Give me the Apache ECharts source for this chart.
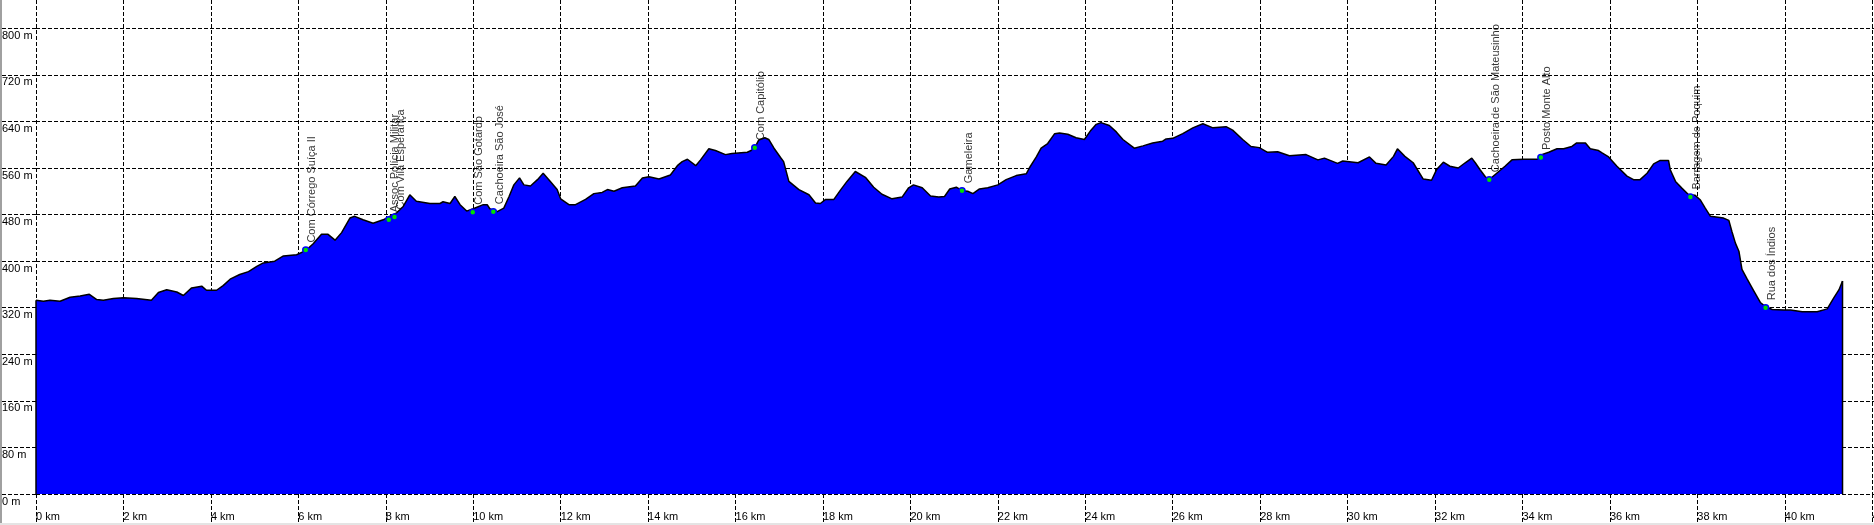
<!DOCTYPE html>
<html><head><meta charset="utf-8">
<script src="https://cdn.jsdelivr.net/npm/echarts@6/dist/echarts.min.js"></script>
<style>html,body{margin:0;padding:0;background:#fff;overflow:hidden}#c{width:1874px;height:525px}</style>
</head><body><div id="c"></div>
<script>
// Elevation profile: distance (km) and elevation (m)
const distKm = [0,0.17,0.32,0.55,0.78,1.01,1.22,1.39,1.54,1.77,2.0,2.30,2.64,2.80,2.99,3.22,3.37,3.56,3.79,3.90,4.13,4.28,4.44,4.66,4.86,5.05,5.20,5.46,5.66,5.96,6.17,6.34,6.53,6.68,6.84,6.99,7.18,7.29,7.48,7.71,7.94,8.09,8.25,8.40,8.55,8.70,9.01,9.24,9.31,9.47,9.58,9.70,9.85,10.0,10.23,10.32,10.38,10.44,10.55,10.70,10.82,10.93,11.06,11.16,11.31,11.47,11.60,11.73,11.92,12.0,12.19,12.34,12.57,12.76,12.95,13.07,13.22,13.41,13.71,13.87,14.02,14.25,14.51,14.67,14.78,14.90,15.09,15.20,15.39,15.54,15.77,15.92,16.27,16.38,16.44,16.53,16.67,16.76,16.88,17.03,17.10,17.22,17.45,17.68,17.83,17.94,18.06,18.25,18.40,18.55,18.74,18.97,19.16,19.35,19.58,19.81,19.96,20.07,20.27,20.46,20.65,20.78,20.90,21.05,21.18,21.31,21.43,21.58,21.77,22.0,22.19,22.42,22.65,22.72,22.88,22.99,23.14,23.30,23.41,23.60,23.79,23.98,24.13,24.25,24.36,24.55,24.71,24.86,25.12,25.32,25.54,25.77,25.85,26.0,26.23,26.46,26.69,26.92,27.22,27.37,27.60,27.79,27.98,28.17,28.40,28.67,29.05,29.32,29.47,29.77,29.89,30.24,30.50,30.65,30.88,31.05,31.14,31.31,31.50,31.73,31.92,32.04,32.19,32.34,32.53,32.69,32.84,32.92,33.03,33.15,33.24,33.41,33.60,33.76,34.02,34.37,34.44,34.60,34.79,34.94,35.13,35.24,35.44,35.55,35.74,35.82,35.97,36.16,36.39,36.54,36.69,36.85,37.0,37.15,37.34,37.38,37.50,37.65,37.80,37.84,37.95,38.07,38.18,38.30,38.60,38.72,38.79,38.87,38.95,39.02,39.14,39.29,39.44,39.56,39.71,39.98,40.13,40.40,40.74,40.97,41.12,41.24,41.32];
const elevM = [333,331,333,331,338,340,343,334,333,336,337,336,333,346,351,347,341,354,357,350,350,358,369,377,382,391,397,400,409,411,418,430,446,446,436,449,474,477,471,465,471,477,483,494,514,503,499,499,502,499,511,497,486,490,497,497,490,488,485,491,511,531,543,531,529,540,551,540,523,507,497,497,506,516,518,523,520,526,529,543,545,541,548,564,571,575,564,574,593,590,583,585,587,591,595,608,612,609,594,578,571,537,523,514,500,499,506,506,522,537,554,544,527,515,507,510,526,531,526,512,510,511,524,527,521,520,516,524,526,531,540,547,550,560,579,594,602,619,620,618,612,609,625,635,638,633,622,609,594,598,603,606,610,611,619,629,636,629,631,625,609,597,595,587,588,581,583,574,577,568,572,569,579,568,565,580,593,580,569,541,539,558,570,563,560,569,577,569,557,545,540,551,563,574,575,575,583,587,593,593,597,603,603,593,590,586,579,563,546,540,540,551,567,573,573,557,537,525,514,511,513,505,491,477,474,470,451,431,417,386,369,349,329,322,317,316,316,313,313,318,337,351,366];

// Waypoints
const wpNames = ["Com Córrego Suíça II","Assoc Polícia Militar","Com Vila Esperança","Com São Gotardo","Cachoeira São José","Com Capitólio","Gameleira","Cachoeira de São Mateusinho","Posto Monte Alto","Barragem de Poquim","Rua dos Índios"];
const wpKm = [6.17,8.07,8.20,9.99,10.46,16.44,21.18,33.24,34.42,37.84,39.56];
const wpElev = [419,471,476,484,485,595,521,540,578,510,320];

const xInterval = 2, xMax = 42.04;
const yInterval = 80, yMax = 848.6;

const profile = distKm.map((d, i) => [d, elevM[i]]);
const n = distKm.length - 1;
const wpData = wpNames.map((nm, i) => ({name: nm, value: [wpKm[i], wpElev[i]]}));

const FONT = 'Liberation Sans, Arial, sans-serif';
const dash = [4, 2];

const chart = echarts.init(document.getElementById('c'), null, {renderer: 'canvas'});
chart.setOption({
  animation: false,
  backgroundColor: '#ffffff',
  grid: {left: 36, right: 0, top: 0, bottom: 31, containLabel: false, outerBoundsMode: 'none'},
  xAxis: {
    type: 'value', min: 0, max: xMax, interval: xInterval,
    axisLine: {show: false},
    axisTick: {show: true, length: 31, inside: false, lineStyle: {color: '#000', width: 1, type: dash}},
    axisLabel: {formatter: '{value} km', align: 'left', verticalAlign: 'top', margin: 17, hideOverlap: false,
      color: '#000', fontFamily: FONT, fontSize: 11, showMaxLabel: false},
    splitLine: {show: true, showMaxLine: false, lineStyle: {color: '#000', width: 1, type: dash}}
  },
  yAxis: {
    type: 'value', min: 0, max: yMax, interval: yInterval,
    axisLine: {show: false},
    axisTick: {show: true, length: 36, lineStyle: {color: '#000', width: 1, type: dash}},
    axisLabel: {formatter: '{value} m', align: 'left', verticalAlign: 'top', margin: 34, showMaxLabel: false,
      padding: [2, 0, 0, 0], color: '#000', fontFamily: FONT, fontSize: 11},
    splitLine: {show: true, showMaxLine: false, lineStyle: {color: '#000', width: 1, type: dash}}
  },
  graphic: [
    {type: 'rect', left: 0, top: 0, shape: {width: 2, height: 525}, style: {fill: '#a0a0a0'}, silent: true, z: 100},
    {type: 'rect', left: 0, top: 523, shape: {width: 1874, height: 2}, style: {fill: '#e4e4e4'}, silent: true, z: 100}
  ],
  series: [
    {
      type: 'scatter', z: 1, silent: true,
      data: wpData, symbolSize: 1, itemStyle: {color: 'rgba(0,0,0,0)'},
      label: {show: true, formatter: '{b}', rotate: 90, position: [7, -7], align: 'left', verticalAlign: 'middle',
        color: '#000', fontFamily: FONT, fontSize: 11}
    },
    {
      type: 'line', z: 2, silent: true, data: profile, symbol: 'none', smooth: false,
      lineStyle: {color: '#000', width: 1.5},
      areaStyle: {color: '#0000ff', opacity: 1}
    },
    {
      type: 'line', z: 2, silent: true, symbol: 'none',
      data: [[distKm[0], 0], [distKm[0], elevM[0]]], lineStyle: {color: '#000', width: 1.5}
    },
    {
      type: 'line', z: 2, silent: true, symbol: 'none',
      data: [[distKm[n], 0], [distKm[n], elevM[n]]], lineStyle: {color: '#000', width: 1.5}
    },
    {
      type: 'scatter', z: 3, silent: true, data: wpData, symbol: 'circle', symbolSize: 6,
      itemStyle: {color: '#00e000', borderColor: '#0000ff', borderWidth: 1.5, opacity: 1}
    }
  ]
});
</script>
</body></html>
